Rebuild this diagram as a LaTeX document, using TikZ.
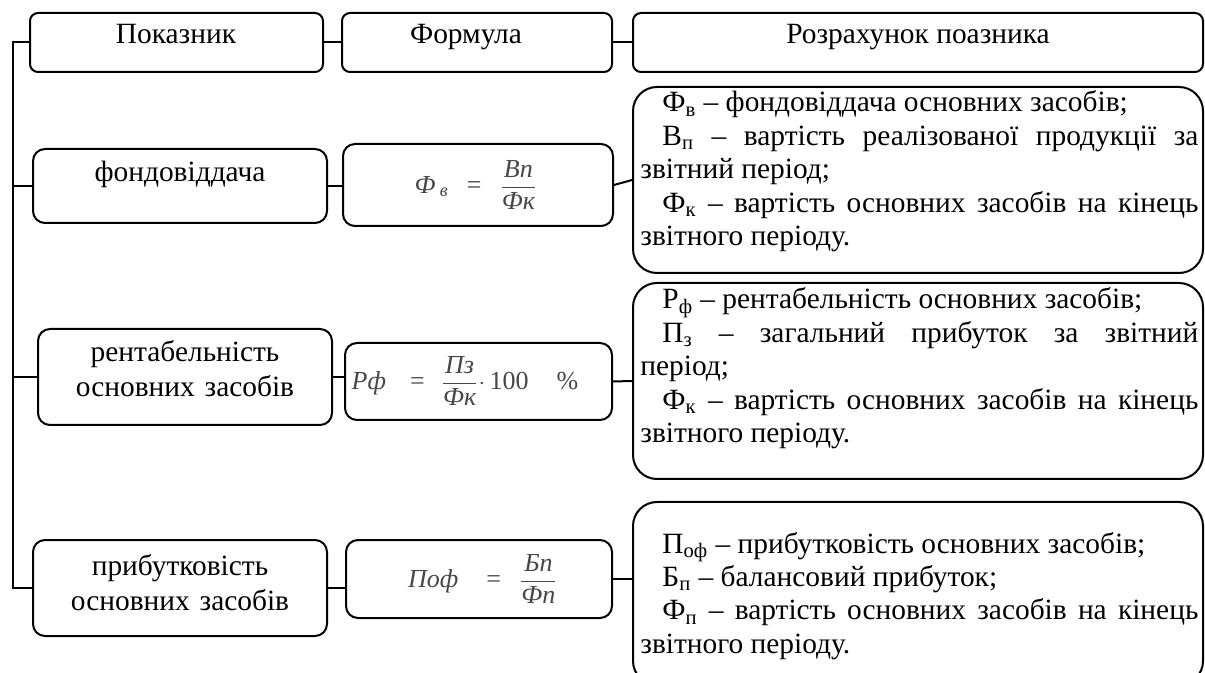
\documentclass[tikz,border=0pt]{standalone}
\usepackage{fontspec}
\setmainfont{Liberation Serif}
\usepackage{amsmath}
\usetikzlibrary{fit}
\hbadness=10000

% indent at the start of each explanatory paragraph
\newcommand\ind{\hspace*{11pt}}

\tikzset{
  boxline/.style={draw, line width=1pt, inner sep=0pt},
  headbox/.style={boxline, rounded corners=4pt},
  rowbox/.style={boxline, rounded corners=6pt},
  notebox/.style={boxline, rounded corners=12pt},
  link/.style={line width=1pt},
  lbl/.style={inner sep=0pt, anchor=base, font=\fontsize{14.7}{17.5}\selectfont},
  rowlbl/.style={lbl, text width=145pt, align=center},
  formula/.style={inner sep=0pt, text=black!72, font=\fontsize{13}{15}\selectfont\itshape},
  notes/.style={inner sep=0pt, anchor=base west, text width=279pt, align=justify,
    font=\fontsize{14.7}{16.7}\selectfont},
}

\begin{document}
\begin{tikzpicture}[x=0.5pt,y=-0.5pt]
\useasboundingbox (0,0) rectangle (1205,673);
\clip (0,0) rectangle (1205,673);

% ---- header row ----
\node[headbox, fit={(30,13) (323,72)}] (h1) {};
\node[headbox, fit={(342,13) (612,72)}] (h2) {};
\node[headbox, fit={(633,13) (1203,72)}] (h3) {};
\node[lbl] (ht1) at (176,44) {Показник};
\node[lbl] (ht2) at (466,44) {Формула};
\node[lbl] (ht3) at (918,44) {Розрахунок поазника};

% ---- indicator boxes ----
\node[rowbox, fit={(33,149) (327,223)}] (l1) {};
\node[rowbox, fit={(38,329) (332,425)}] (l2) {};
\node[rowbox, fit={(33,540) (327,636)}] (l3) {};
\node[lbl] (lt1) at (180,182) {фондовіддача};
\node[rowlbl] (lt2) at (185,362) {рентабельність\\основних засобів};
\node[rowlbl] (lt3) at (180,575) {прибутковість\\основних засобів};

% ---- formula boxes ----
\node[rowbox, fit={(343,144) (613,226)}] (f1) {};
\node[rowbox, fit={(345,343) (612,420)}] (f2) {};
\node[rowbox, fit={(346,540) (612,618)}] (f3) {};
\node[formula] (e1) at (476,185)
  {Ф\,\textsubscript{в}\hspace{9pt}\textup{=}\hspace{9pt}$\dfrac{\text{Вп}}{\text{Фк}}$};
\node[formula] (e2) at (465,381)
  {Рф\hspace{12pt}\textup{=}\hspace{8pt}$\dfrac{\text{Пз}}{\text{Фк}}$\textup{$\cdot$\,100}\hspace{14pt}\textup{\%}};
\node[formula] (e3) at (483,579)
  {Поф\hspace{14pt}\textup{=}\hspace{9pt}$\dfrac{\text{Бп}}{\text{Фп}}$};

% ---- explanation boxes ----
\node[notebox, fit={(633,87) (1203,273)}] (r1) {};
\node[notebox, fit={(633,283) (1203,479)}] (r2) {};
\node[notebox, fit={(633,502) (1203,685)}] (r3) {};
\node[notes] (nt1) at (640,112) {\ind Ф\textsubscript{в} – фондовіддача основних засобів;\par
  \ind В\textsubscript{п} – вартість реалізованої продукції за\linebreak звітний період;\par
  \ind Ф\textsubscript{к} – вартість основних засобів на кінець\linebreak звітного періоду.};
\node[notes] (nt2) at (640,309) {\ind Р\textsubscript{ф} – рентабельність основних засобів;\par
  \ind П\textsubscript{з} – загальний прибуток за звітний\linebreak період;\par
  \ind Ф\textsubscript{к} – вартість основних засобів на кінець\linebreak звітного періоду.};
\node[notes] (nt3) at (640,553) {\ind П\textsubscript{оф} – прибутковість основних засобів;\par
  \ind Б\textsubscript{п} – балансовий прибуток;\par
  \ind Ф\textsubscript{п} – вартість основних засобів на кінець\linebreak звітного періоду.};

% ---- connectors ----
\coordinate (sp) at (13,0);
\draw[link] (h1.west) -- (h1.west -| sp) |- (l3.west);
\draw[link] (l1.west) -- (l1.west -| sp);
\draw[link] (l2.west) -- (l2.west -| sp);
\draw[link] (h1) -- (h2);
\draw[link] (h2) -- (h3);
\draw[link] (l1.east) -- (f1.west |- l1.east);
\draw[link] (l2.east) -- (f2.west |- l2.east);
\draw[link] (l3.east) -- (f3.west |- l3.east);
\draw[link] (f1.east) -- (r1.west);
\draw[link] (f2.east) -- (r2.west);
\draw[link] (f3.east) -- (f3.east -| r3.west);
\end{tikzpicture}
\end{document}
